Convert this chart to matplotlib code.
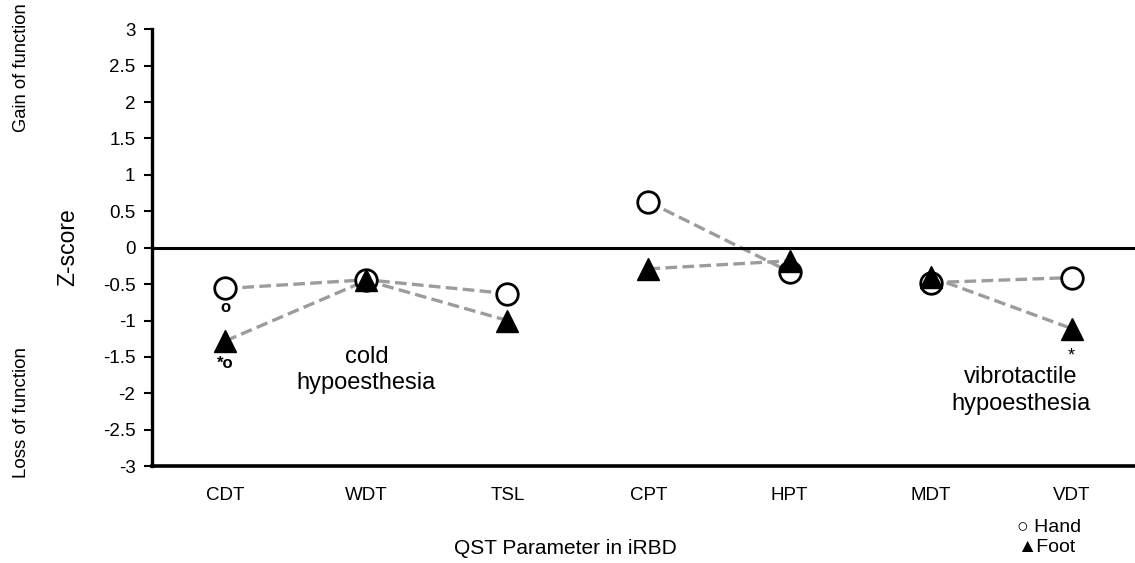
import numpy as np
import matplotlib
matplotlib.use("Agg")
import matplotlib.pyplot as plt

plt.rcParams['font.family'] = ['Liberation Sans', 'DejaVu Sans']

params = ['CDT', 'WDT', 'TSL', 'CPT', 'HPT', 'MDT', 'VDT']
hand = [-0.56, -0.44, -0.63, 0.63, -0.33, -0.48, -0.41]
foot = [-1.28, -0.45, -1.0, -0.29, -0.18, -0.40, -1.11]
# which parameters are joined by dashed lines
groups = [[0, 1, 2], [3, 4], [5, 6]]

fig = plt.figure(figsize=(11.35, 5.63), dpi=100)
ax = fig.add_axes([0.134, 0.172, 0.866, 0.776])

x = np.arange(len(params))
for g in groups:
    ax.plot(x[g], [hand[i] for i in g], ls='--', color='#9c9c9c', lw=2.4, dashes=(3.5, 1.6), zorder=1)
    ax.plot(x[g], [foot[i] for i in g], ls='--', color='#9c9c9c', lw=2.4, dashes=(3.5, 1.6), zorder=1)

ax.plot(x, hand, 'o', ls='none', ms=15.5, mfc='white', mec='black', mew=2, zorder=3)
ax.plot(x, foot, '^', ls='none', ms=16.5, mfc='black', mec='black', zorder=4)

ax.axhline(0, color='black', lw=2.2, zorder=2)

ax.set_xlim(-0.52, 6.45)
ax.set_ylim(-3, 3)
ax.set_yticks(np.arange(-3, 3.01, 0.5))
ax.set_yticklabels(['-3', '-2.5', '-2', '-1.5', '-1', '-0.5', '0', '0.5', '1', '1.5', '2', '2.5', '3'])
ax.set_xticks(x)
ax.set_xticklabels(params)
ax.tick_params(axis='x', length=0, pad=15, labelsize=13.5)
ax.tick_params(axis='y', length=6, width=1.5, labelsize=13.5, pad=6)
for s in ['top', 'right']:
    ax.spines[s].set_visible(False)
ax.spines['left'].set_linewidth(2.4)
ax.spines['bottom'].set_linewidth(2.6)

# significance marks
ax.text(0, -0.82, 'o', ha='center', va='center', fontsize=12, fontweight='bold')
ax.text(0, -1.59, '*o', ha='center', va='center', fontsize=12, fontweight='bold')
ax.text(6, -1.48, '*', ha='center', va='center', fontsize=13)

ax.text(1, -1.68, 'cold\nhypoesthesia', ha='center', va='center', fontsize=17, linespacing=1.25)
ax.text(5.64, -1.96, 'vibrotactile\nhypoesthesia', ha='center', va='center', fontsize=17, linespacing=1.25)

fig.text(68 / 1135, 1 - 247 / 563, 'Z-score', rotation=90, ha='center', va='center', fontsize=16.5)
fig.text(22 / 1135, 1 - 68 / 563, 'Gain of function', rotation=90, ha='center', va='center', fontsize=13.2)
fig.text(22 / 1135, 1 - 412 / 563, 'Loss of function', rotation=90, ha='center', va='center', fontsize=13.5)
fig.text(565 / 1135, 1 - 548 / 563, 'QST Parameter in iRBD', ha='center', va='center', fontsize=15)

fig.text(1017 / 1135, 1 - 527 / 563, '○ Hand', ha='left', va='center', fontsize=14)
fig.text(1017 / 1135, 1 - 548 / 563, '▲Foot', ha='left', va='center', fontsize=14)

fig.savefig('out.png', dpi=100)
